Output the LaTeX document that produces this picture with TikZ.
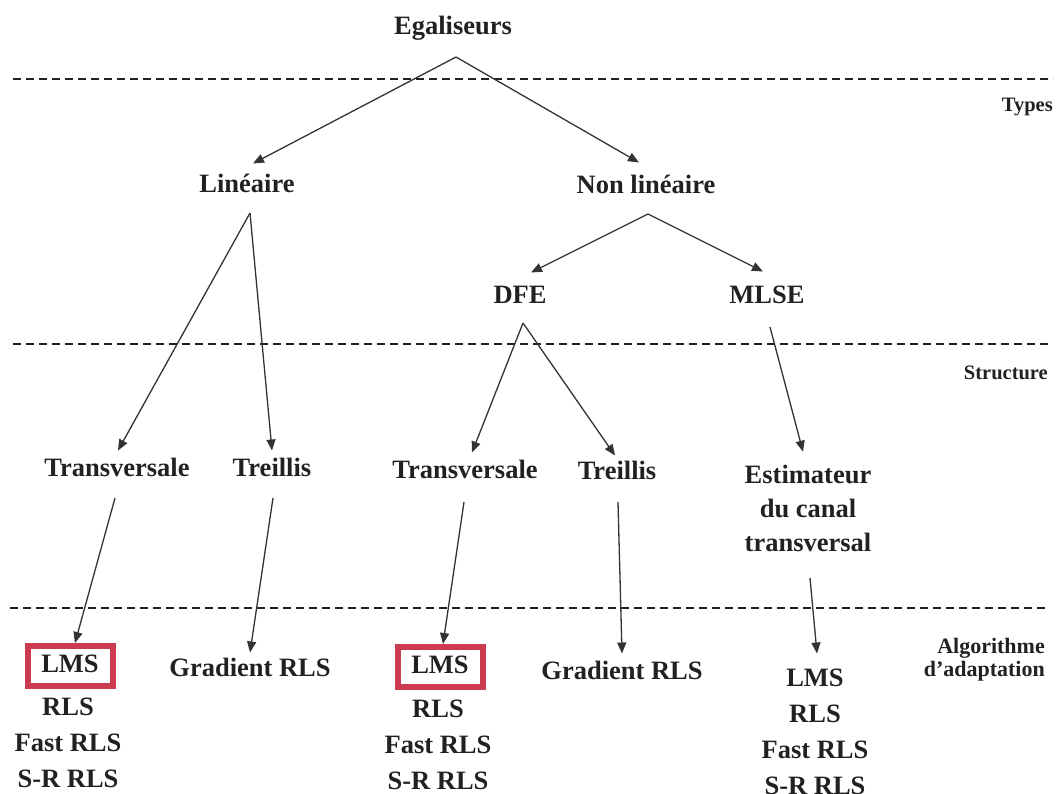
\documentclass[tikz,border=0pt]{standalone}
\usepackage{fontspec}
\setmainfont{Liberation Serif}
\usetikzlibrary{arrows.meta}

\definecolor{ink}{rgb}{0.13,0.13,0.13}
\definecolor{wire}{rgb}{0.2,0.2,0.2}
\definecolor{hilite}{RGB}{204,58,80}

\tikzset{
  lbl/.style={font=\bfseries\fontsize{26.5}{35}\selectfont, text=ink,
    text height=18pt, text depth=5pt, inner sep=3pt, outer sep=3pt},
  stack/.style={font=\bfseries\fontsize{26.5}{36}\selectfont, text=ink,
    align=center, inner sep=3pt, outer sep=3pt},
  tier/.style={font=\bfseries\fontsize{20.5}{22}\selectfont, text=ink,
    anchor=east, inner sep=0pt},
  boxed/.style={lbl, draw=hilite, line width=6pt,
    minimum width=85pt, minimum height=40pt},
  conn/.style={draw=wire, line width=1.3pt,
    -{Triangle[length=11pt,width=9pt]}},
  levelsep/.style={draw=ink, line width=1.5pt, dash pattern=on 8pt off 5pt}
}

\begin{document}
\begin{tikzpicture}[x=1pt,y=-1pt]
\useasboundingbox (0,0) rectangle (1057,793);

% level separators
\draw[levelsep] (13,79) -- (1053,79);
\draw[levelsep] (13,344) -- (1050,344);
\draw[levelsep] (10,608) -- (1046,608);

% level names
\node[tier] (types) at (1053,107) {Types};
\node[tier] (struct) at (1048,373) {Structure};
\node[tier, align=right, font=\bfseries\fontsize{22}{23}\selectfont]
  (algo) at (1045,660) {Algorithme\\d'adaptation};

% tree nodes
\node[lbl] (ega) at (453,28) {Egaliseurs};
\node[lbl] (lin) at (247,186) {Linéaire};
\node[lbl] (nonlin) at (646,187) {Non linéaire};
\node[lbl] (dfe) at (520,297) {DFE};
\node[lbl] (mlse) at (767,297) {MLSE};
\node[lbl] (trans1) at (117,470) {Transversale};
\node[lbl] (treil1) at (272,470) {Treillis};
\node[lbl] (trans2) at (465,472) {Transversale};
\node[lbl] (treil2) at (617,473) {Treillis};
\node[stack] (est) at (808,508)
  {Estimateur\\[-2pt]du canal\\[-2pt]transversal};

% adaptation algorithms
\node[boxed] (lms1) at (70,666) {LMS};
\node[stack] (list1) at (68,743) {RLS\\Fast RLS\\S-R RLS};
\node[lbl] (grad1) at (250,670) {Gradient RLS};
\node[boxed] (lms2) at (440,667) {LMS};
\node[stack] (list2) at (438,745) {RLS\\Fast RLS\\S-R RLS};
\node[lbl] (grad2) at (622,673) {Gradient RLS};
\node[lbl] (lms3) at (815,680) {LMS};
\node[stack] (list3) at (815,750) {RLS\\Fast RLS\\S-R RLS};

% connector start points below the labels
\coordinate (ega-o) at (456,57);
\coordinate (lin-o) at (250,213);
\coordinate (nonlin-o) at (648,214);
\coordinate (dfe-o) at (523,323);
\coordinate (mlse-o) at (770,327);
\coordinate (trans1-o) at (115,498);
\coordinate (treil1-o) at (273,498);
\coordinate (trans2-o) at (464,502);
\coordinate (treil2-o) at (618,502);
\coordinate (est-o) at (810,578);

% connectors
\draw[conn] (ega-o) -- ([xshift=6pt,yshift=5pt]lin.north);
\draw[conn] (ega-o) -- ([xshift=-7pt,yshift=7pt]nonlin.north);
\draw[conn] (nonlin-o) -- ([xshift=11pt,yshift=7pt]dfe.north);
\draw[conn] (nonlin-o) -- ([xshift=-4pt,yshift=8pt]mlse.north);
\draw[conn] (lin-o) -- ([xshift=1pt,yshift=2pt]trans1.north);
\draw[conn] (lin-o) -- ([yshift=2pt]treil1.north);
\draw[conn] (dfe-o) -- ([xshift=7pt,yshift=2pt]trans2.north);
\draw[conn] (dfe-o) -- ([xshift=-2pt]treil2.north);
\draw[conn] (mlse-o) -- ([xshift=-5pt,yshift=7pt]est.north);
\draw[conn] (trans1-o) -- ([xshift=5pt]lms1.north);
\draw[conn] (treil1-o) -- (grad1.north);
\draw[conn] (trans2-o) -- ([xshift=3pt]lms2.north);
\draw[conn] (treil2-o) -- ([yshift=2pt]grad2.north);
\draw[conn] (est-o) -- ([xshift=2pt,yshift=9pt]lms3.north);
\end{tikzpicture}
\end{document}
